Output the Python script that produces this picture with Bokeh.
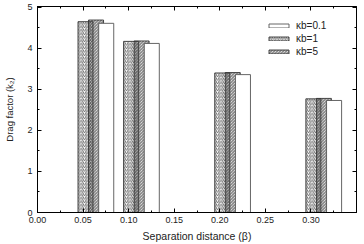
from bokeh.plotting import figure
from bokeh.models import (ColumnDataSource, Range1d, LinearAxis, Legend, LegendItem,
                          SingleIntervalTicker, NumeralTickFormatter)
from bokeh.transform import dodge
from bokeh.embed import file_html
from bokeh.resources import INLINE

# Drag factor k2 versus separation distance beta for three values of kappa*b
separation = [0.05, 0.10, 0.20, 0.30]
k2_kb01 = [4.61, 4.12, 3.36, 2.73]
k2_kb1 = [4.65, 4.17, 3.40, 2.77]
k2_kb5 = [4.69, 4.18, 3.41, 2.78]
series_labels = ["\u03bab=0.1", "\u03bab=1", "\u03bab=5"]

src = ColumnDataSource(dict(x=separation, kb01=k2_kb01, kb1=k2_kb1, kb5=k2_kb5))

FONT = "Liberation Sans"

p = figure(width=364, height=244, output_backend="svg", toolbar_location=None,
           x_range=Range1d(0, 0.35), y_range=Range1d(0, 5.02),
           min_border_left=37, min_border_right=8, min_border_top=6, min_border_bottom=32)
p.grid.visible = False
p.outline_line_color = "black"
p.outline_line_width = 1
p.background_fill_color = "white"
p.border_fill_color = "white"

bar_w = 0.0165
line_dark = "#333333"

# overlapping columns: two hatched (transparent) bars, the open bar on top
r_kb1 = p.vbar(x=dodge("x", 0.0027, range=p.x_range), top="kb1", width=bar_w, source=src,
               fill_alpha=0, line_color=line_dark, line_width=0.9,
               hatch_pattern="/", hatch_color="#444444", hatch_scale=3.5, hatch_weight=0.8)
r_kb5 = p.vbar(x=dodge("x", 0.0142, range=p.x_range), top="kb5", width=bar_w, source=src,
               fill_alpha=0, line_color=line_dark, line_width=0.9,
               hatch_pattern="\\", hatch_color="#444444", hatch_scale=3.0, hatch_weight=0.8)
r_kb01 = p.vbar(x=dodge("x", 0.0254, range=p.x_range), top="kb01", width=bar_w, source=src,
                fill_color="white", line_color="#555555", line_width=0.9)

def style_axis(ax, show_labels):
    ax.axis_line_color = "black"
    ax.major_tick_line_color = "black"
    ax.minor_tick_line_color = "black"
    ax.major_tick_in = 4
    ax.major_tick_out = 0
    ax.minor_tick_in = 2
    ax.minor_tick_out = 0
    ax.major_label_text_font = FONT
    ax.major_label_text_color = "#222222"
    ax.axis_label_text_font = FONT
    ax.axis_label_text_font_style = "normal"
    ax.axis_label_text_color = "#222222"
    if show_labels:
        ax.major_label_text_font_size = "9px"
    else:
        # mirrored tick marks only, no numbers
        ax.major_label_text_font_size = "1px"
        ax.major_label_text_color = None
        ax.major_label_standoff = 0

xaxis = p.xaxis[0]
xaxis.ticker = SingleIntervalTicker(interval=0.05, num_minor_ticks=2)
xaxis.formatter = NumeralTickFormatter(format="0.00")
style_axis(xaxis, True)
xaxis.major_label_standoff = 4
xaxis.axis_label = "Separation distance (\u03b2)"
xaxis.axis_label_text_font_size = "10.5px"
xaxis.axis_label_standoff = 4

yaxis = p.yaxis[0]
yaxis.ticker = SingleIntervalTicker(interval=1, num_minor_ticks=2)
style_axis(yaxis, True)
yaxis.major_label_standoff = 5
yaxis.axis_label = "Drag factor (k\u2082)"
yaxis.axis_label_text_font_size = "9.5px"
yaxis.axis_label_standoff = 9

top_axis = LinearAxis(ticker=SingleIntervalTicker(interval=0.05, num_minor_ticks=2))
style_axis(top_axis, False)
p.add_layout(top_axis, "above")

right_axis = LinearAxis(ticker=SingleIntervalTicker(interval=1, num_minor_ticks=2))
style_axis(right_axis, False)
p.add_layout(right_axis, "right")

legend = Legend(items=[LegendItem(label=series_labels[0], renderers=[r_kb01]),
                       LegendItem(label=series_labels[1], renderers=[r_kb1]),
                       LegendItem(label=series_labels[2], renderers=[r_kb5])],
                location=(229, 155), padding=0, margin=0, spacing=1,
                glyph_width=25, glyph_height=5, label_height=12, label_standoff=5,
                label_text_font=FONT, label_text_font_size="10px", label_text_color="#222222",
                border_line_alpha=0, background_fill_alpha=0)
p.add_layout(legend)

open("out.html", "w").write(file_html(p, INLINE))
